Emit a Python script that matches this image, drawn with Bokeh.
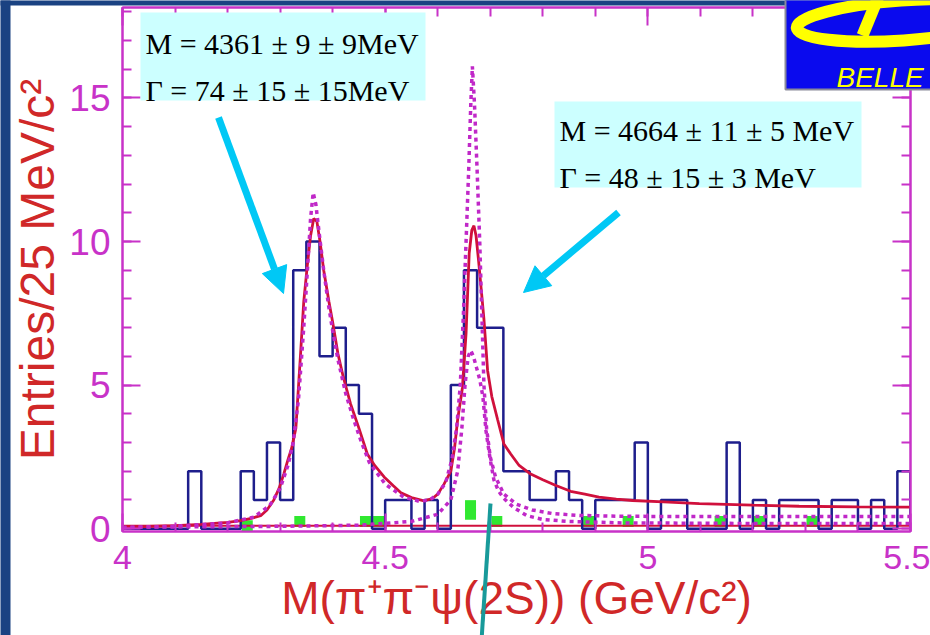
import numpy as np
from bokeh.plotting import figure
from bokeh.models import (Range1d, LinearAxis, SingleIntervalTicker, BoxAnnotation,
                          Arrow, NormalHead, Label, CustomJSTickFormatter)
from bokeh.core.properties import value
from bokeh.embed import file_html
from bokeh.resources import INLINE

# ---------------------------------------------------------------- data
# M(pi+ pi- psi(2S)) spectrum, entries per 25 MeV/c^2 bin from 4.000 GeV/c^2
bin_start = 4.0
bin_width = 0.025
counts = [0, 0, 0, 0, 0, 2, 0, 0, 0, 2,
          1, 3, 1, 9, 10, 6, 7, 5, 4, 0,
          1, 1, 0, 1, 0, 5, 9, 7, 7, 2,
          2, 1, 1, 2, 1, 0, 1, 1, 1, 3,
          0, 1, 1, 0, 0, 0, 3, 0, 1, 0,
          1, 1, 1, 0, 1, 1, 0, 1, 0, 2]

# best fit (solid)
fit_x = [4.00, 4.10, 4.15, 4.20, 4.225, 4.245, 4.263, 4.275, 4.288, 4.298,
         4.307, 4.315, 4.322, 4.33, 4.339, 4.345, 4.352, 4.358, 4.364, 4.37,
         4.376, 4.383, 4.393, 4.40, 4.41, 4.42, 4.434, 4.45, 4.466, 4.48,
         4.498, 4.515, 4.53, 4.55, 4.574, 4.59, 4.60, 4.612, 4.625, 4.632,
         4.638, 4.647, 4.654, 4.66, 4.665, 4.669, 4.673, 4.678, 4.683, 4.688,
         4.695, 4.703, 4.714, 4.726, 4.739, 4.755, 4.777, 4.80, 4.825, 4.853,
         4.88, 4.907, 4.94, 4.971, 5.03, 5.098, 5.20, 5.288, 5.40, 5.50]
fit_y = [0.05, 0.10, 0.15, 0.22, 0.28, 0.36, 0.45, 0.65, 1.0, 1.4,
         1.9, 2.4, 2.8, 3.5, 6.1, 7.9, 9.2, 10.2, 10.8, 10.7,
         10.0, 9.0, 7.9, 7.2, 6.1, 5.3, 4.35, 3.5, 2.6, 2.2,
         1.8, 1.5, 1.25, 1.08, 0.97, 1.05, 1.2, 1.55, 2.0, 2.8,
         3.8, 4.9, 6.8, 9.6, 10.4, 10.55, 10.2, 9.3, 8.3, 7.3,
         5.5, 4.6, 3.8, 2.95, 2.6, 2.2, 1.9, 1.7, 1.5, 1.3,
         1.2, 1.1, 1.03, 0.98, 0.93, 0.87, 0.82, 0.78, 0.76, 0.75]

# second solution (dashed)
alt_x = [4.00, 4.10, 4.20, 4.25, 4.28, 4.30, 4.315, 4.325, 4.335, 4.345,
         4.352, 4.358, 4.363, 4.368, 4.375, 4.383, 4.392, 4.40, 4.41, 4.425,
         4.44, 4.455, 4.47, 4.50, 4.535, 4.565, 4.585, 4.60, 4.615, 4.627,
         4.636, 4.643, 4.649, 4.654, 4.659, 4.663, 4.666, 4.670, 4.675, 4.680,
         4.684, 4.688, 4.693, 4.70, 4.71, 4.726, 4.75, 4.78, 4.82, 4.87,
         4.95, 5.10, 5.30, 5.50]
alt_y = [0.03, 0.08, 0.20, 0.40, 0.80, 1.4, 2.2, 3.0, 4.5, 7.0,
         9.0, 10.8, 11.7, 11.3, 10.2, 9.0, 7.8, 6.9, 5.9, 4.7,
         3.8, 3.0, 2.3, 1.55, 1.1, 0.95, 1.0, 1.2, 1.6, 2.4,
         3.5, 5.0, 7.5, 10.0, 12.5, 14.8, 16.1, 14.8, 12.5, 10.0,
         7.5, 5.0, 3.5, 2.5, 1.8, 1.2, 0.85, 0.65, 0.52, 0.46,
         0.43, 0.42, 0.42, 0.42]

# narrow upper component (dashed)
narrow_x = [4.00, 4.30, 4.45, 4.55, 4.60, 4.625, 4.638, 4.646, 4.652, 4.658,
            4.663, 4.668, 4.674, 4.680, 4.686, 4.692, 4.700, 4.707, 4.716, 4.726,
            4.745, 4.77, 4.80, 4.85, 4.95, 5.20, 5.50]
narrow_y = [0.05, 0.08, 0.12, 0.25, 0.5, 1.0, 2.0, 3.5, 5.0, 6.0,
            6.2, 6.0, 5.6, 5.2, 4.6, 3.4, 2.4, 1.7, 1.3, 1.05,
            0.73, 0.45, 0.32, 0.25, 0.20, 0.18, 0.18]

# flat background level of the fit
bkg_level = 0.1

# psi(2S) sideband events
side_x = [4.2375, 4.3375, 4.4625, 4.4875, 4.6625, 4.6625, 4.7125, 4.8875,
          4.9625, 5.1375, 5.2125, 5.3125]
side_y = [0.10, 0.25, 0.25, 0.25, 0.50, 0.80, 0.25, 0.25,
          0.25, 0.25, 0.25, 0.25]

x_ticks = [4.0, 4.5, 5.0, 5.5]
x_tick_labels = ["4", "4.5", "5", "5.5"]

fit_1 = ["M = 4361 ± 9 ± 9MeV", "Γ = 74 ± 15 ± 15MeV"]
fit_2 = ["M = 4664 ± 11 ± 5 MeV", "Γ = 48 ± 15 ± 3 MeV"]

# ---------------------------------------------------------------- style
MAG = "#c832c8"
RED_TXT = "#d02828"
NAVY = "#1e1e8c"
FIT = "#d0103c"
DASH = "#c028c8"
GREEN = "#30e830"
CYAN_BOX = "#ccffff"
CYAN = "#00c8f5"
TEAL = "#189a9a"
SLIDE = "#1a4282"
LOGO_BLUE = "#0a0aee"
LOGO_YELLOW = "#ffff00"

W, H = 930, 635
X0, X1 = 4.0, 5.5
Y0, Y1 = -0.1, 18.15
FL, FR, FT, FB = 122, 910, 7, 531   # frame edges in page pixels


def dx(px):
    return X0 + (px - FL) * (X1 - X0) / (FR - FL)


def dy(py):
    return Y0 + (FB - py) * (Y1 - Y0) / (FB - FT)


p = figure(width=W, height=H, x_range=Range1d(X0, X1), y_range=Range1d(Y0, Y1),
           output_backend="svg", toolbar_location=None,
           min_border_left=FL, min_border_right=W - FR,
           min_border_top=FT, min_border_bottom=H - FB)
p.background_fill_color = "white"
p.border_fill_color = "white"
p.outline_line_color = MAG
p.outline_line_width = 2
p.xgrid.visible = False
p.ygrid.visible = False

right_axis = LinearAxis()
top_axis = LinearAxis()
p.add_layout(right_axis, "right")
p.add_layout(top_axis, "above")

x_ticker = SingleIntervalTicker(interval=0.5, num_minor_ticks=5)
y_ticker = SingleIntervalTicker(interval=5, num_minor_ticks=5)

for ax in [p.below[0], top_axis, p.left[0], right_axis]:
    ax.axis_line_color = MAG
    ax.axis_line_width = 2
    ax.major_tick_line_color = MAG
    ax.major_tick_line_width = 2
    ax.minor_tick_line_color = MAG
    ax.minor_tick_line_width = 2
    ax.major_tick_in = 18
    ax.major_tick_out = 0
    ax.minor_tick_in = 9
    ax.minor_tick_out = 0
    ax.major_label_text_color = MAG
    ax.major_label_text_font = "Liberation Sans"
    ax.axis_label_text_color = RED_TXT
    ax.axis_label_text_font = "Liberation Sans"
    ax.axis_label_text_font_style = "normal"

for ax in [p.below[0], top_axis]:
    ax.ticker = x_ticker
for ax in [p.left[0], right_axis]:
    ax.ticker = y_ticker

# the mirrored top/right axes carry ticks only
for ax in [top_axis, right_axis]:
    ax.formatter = CustomJSTickFormatter(code="return ''")
    ax.major_label_standoff = 0

xa = p.below[0]
xa.major_label_overrides = dict(zip(x_ticks, x_tick_labels))
xa.major_label_text_font_size = "34px"
xa.major_label_standoff = 14
xa.axis_label = "M(π⁺π⁻ψ(2S)) (GeV/c²)"
xa.axis_label_text_font_size = "46px"
xa.axis_label_standoff = 0

ya = p.left[0]
ya.major_label_text_font_size = "37px"
ya.major_label_standoff = 12
ya.axis_label = "Entries/25 MeV/c²"
ya.axis_label_text_font_size = "48px"
ya.axis_label_standoff = 2

# ---------------------------------------------------------------- marks
edges = [bin_start + i * bin_width for i in range(len(counts) + 1)]

p.scatter(side_x, side_y, marker="square", size=11, fill_color=GREEN,
          line_color=None)
p.line([X0, X1], [bkg_level, bkg_level], line_color=FIT, line_width=2)
p.step(edges, counts + [0], mode="after", line_color=NAVY, line_width=2.5)
p.line(fit_x, fit_y, line_color=FIT, line_width=2.8)
p.line(alt_x, alt_y, line_color=DASH, line_width=3.5, line_dash="4 4")
p.line(narrow_x, narrow_y, line_color=DASH, line_width=3.5, line_dash="4 4")

# ---------------------------------------------------------------- fit results
for (l, r, t, b), lines, x_txt, baselines in [
        ((140, 425, 12, 100), fit_1, 145, (43, 90)),
        ((554, 861, 101, 187), fit_2, 559, (130, 177))]:
    p.add_layout(BoxAnnotation(left=dx(l), right=dx(r), top=dy(t), bottom=dy(b),
                               fill_color=CYAN_BOX, fill_alpha=1, line_color=None))
    for txt, base in zip(lines, baselines):
        p.add_layout(Label(x=dx(x_txt), y=dy(base), text=txt, text_color="black",
                           text_font="Liberation Serif", text_font_size="30px",
                           text_baseline="alphabetic"))

for (sx, sy, ex, ey) in [(218, 117, 283, 293), (618, 212, 523, 292)]:
    p.add_layout(Arrow(x_start=dx(sx), y_start=dy(sy), x_end=dx(ex), y_end=dy(ey),
                       line_color=CYAN, line_width=7,
                       end=NormalHead(size=26, fill_color=CYAN, line_color=CYAN)))

# ---------------------------------------------------------------- slide layer
# a transparent full-page layer on the same data scale, for the slide
# border, the experiment logo and the pointer line that runs past the axes
q = figure(width=W, height=H, x_range=Range1d(dx(0), dx(W)), y_range=Range1d(dy(H), dy(0)),
           output_backend="svg", toolbar_location=None, title=None,
           x_axis_location=None, y_axis_location=None,
           min_border=0, min_border_left=0, min_border_right=0,
           min_border_top=0, min_border_bottom=0)
q.background_fill_alpha = 0
q.border_fill_alpha = 0
q.outline_line_color = None
q.xgrid.visible = False
q.ygrid.visible = False
q.styles = {"position": "absolute", "left": "0px", "top": "0px"}

# slide border strips
q.quad(left=[dx(-5), dx(-5)], right=[dx(10), dx(W + 5)],
       top=[dy(-5), dy(-5)], bottom=[dy(H + 5), dy(5)],
       fill_color=SLIDE, line_color=None)

# pointer line
q.segment(x0=[dx(490)], y0=[dy(503)], x1=[dx(481)], y1=[dy(H + 5)],
          line_color=TEAL, line_width=4)

# experiment logo
q.quad(left=[dx(785)], right=[dx(W + 5)], top=[dy(-5)], bottom=[dy(89)],
       fill_color=LOGO_BLUE, line_color="#8a8a9a", line_width=2)
q.ellipse(x=[dx(902)], y=[dy(20)], width=[212], height=[40],
          width_units="screen", height_units="screen", angle=[np.radians(4)],
          fill_color=None, line_color=LOGO_YELLOW, line_width=12)
q.segment(x0=[dx(862)], y0=[dy(35)], x1=[dx(878)], y1=[dy(-4)],
          line_color=LOGO_YELLOW, line_width=12)
q.text(x=[dx(836)], y=[dy(77)], text=["BELLE"], text_color=LOGO_YELLOW,
       text_font=value("Liberation Sans"), text_font_style="italic",
       text_font_size="28px", text_baseline="alphabetic")

open("out.html", "w").write(file_html([p, q], INLINE))
